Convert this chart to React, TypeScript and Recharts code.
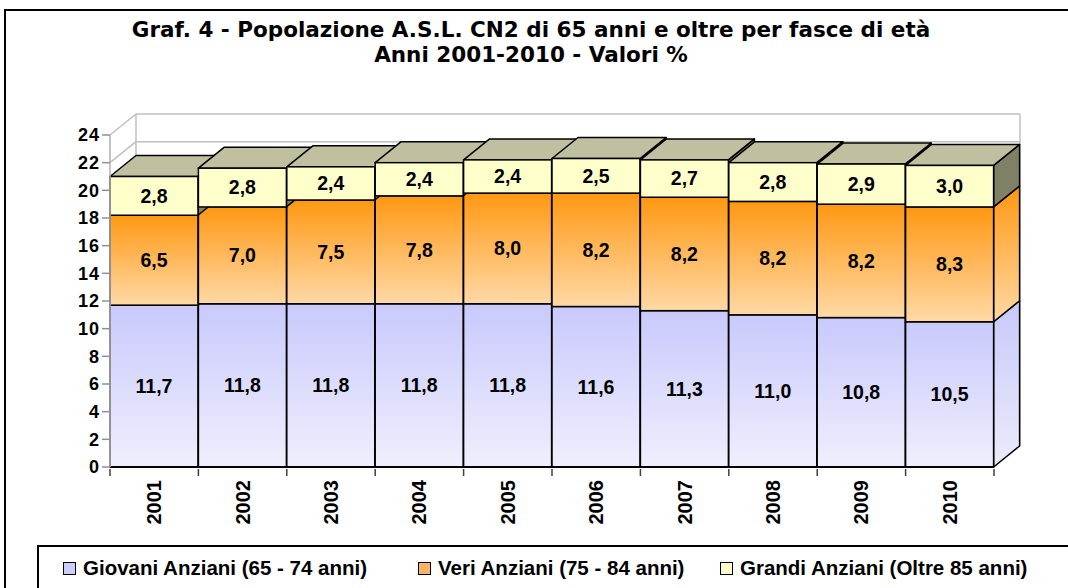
import React from 'react';
import { BarChart, Bar, XAxis, YAxis, CartesianGrid, LabelList } from 'recharts';

// ── dati ─────────────────────────────────────────────────────
const ANNI = ['2001', '2002', '2003', '2004', '2005', '2006', '2007', '2008', '2009', '2010'];
const GIOVANI = [11.7, 11.8, 11.8, 11.8, 11.8, 11.6, 11.3, 11.0, 10.8, 10.5];
const VERI = [6.5, 7.0, 7.5, 7.8, 8.0, 8.2, 8.2, 8.2, 8.2, 8.3];
const GRANDI = [2.8, 2.8, 2.4, 2.4, 2.4, 2.5, 2.7, 2.8, 2.9, 3.0];
const Y_TICKS = [0, 2, 4, 6, 8, 10, 12, 14, 16, 18, 20, 22, 24];

const SERIE = [
  { key: 'giovani', label: 'Giovani Anziani (65 - 74 anni)', fill: 'url(#gGiovani)', side: 'url(#gGiovaniSide)', legend: '#ccccff' },
  { key: 'veri', label: 'Veri Anziani (75 - 84 anni)', fill: 'url(#gVeri)', side: 'url(#gVeri)', legend: '#ffb366' },
  { key: 'grandi', label: 'Grandi Anziani (Oltre 85 anni)', fill: '#ffffcc', side: '#808066', legend: '#ffffcc' },
];

const data = ANNI.map((anno, i) => ({ anno, giovani: GIOVANI[i], veri: VERI[i], grandi: GRANDI[i] }));

// profondità 3D (pixel)
const DX = 26;
const DY = -21;
const FONT = '"Liberation Sans", Arial, sans-serif';
const fmt = (v: unknown) => Number(v).toFixed(1).replace('.', ',');

// ── barra 3D ─────────────────────────────────────────────────
function Box3D(props: any) {
  const { x, y, width: w, height: h, fill, side, top } = props;
  if (w == null || h == null) return null;
  const sw = 1.5;
  return (
    <g>
      <path
        d={`M${x + w},${y} L${x + w + DX},${y + DY} L${x + w + DX},${y + h + DY} L${x + w},${y + h} Z`}
        fill={side} stroke="#000" strokeWidth={sw} strokeLinejoin="round"
      />
      {top && (
        <path
          d={`M${x},${y} L${x + DX},${y + DY} L${x + w + DX},${y + DY} L${x + w},${y} Z`}
          fill="#c0c0a0" stroke="#000" strokeWidth={sw} strokeLinejoin="round"
        />
      )}
      <rect x={x} y={y} width={w} height={h} fill={fill} stroke="#000" strokeWidth={sw} />
    </g>
  );
}

// ── griglia sulla parete di fondo ─────────────────────────────
function WallLine(props: any) {
  const { x1, y1, x2, key } = props;
  return (
    <g key={key}>
      <line x1={x1} y1={y1} x2={x1 + DX} y2={y1 + DY} stroke="#c0c0c0" strokeWidth={1.5} />
      <line x1={x1 + DX} y1={y1 + DY} x2={x2 + DX} y2={y1 + DY} stroke="#c0c0c0" strokeWidth={1.5} />
    </g>
  );
}

function WallEdge(props: any) {
  const { x1, y1, y2, key } = props;
  return <line key={key} x1={x1 + DX} y1={y1 + DY} x2={x1 + DX} y2={y2 + DY} stroke="#c0c0c0" strokeWidth={1.5} />;
}

// ── tick asse X ──────────────────────────────────────────────
function YearTick(props: any) {
  const { x, y, payload, index } = props;
  const off = payload.offset ?? 0;
  return (
    <g>
      <line x1={x - off} y1={y - 6} x2={x - off} y2={y + 1} stroke="#404040" strokeWidth={1.5} />
      {index === ANNI.length - 1 && (
        <line x1={x + off} y1={y - 6} x2={x + off} y2={y + 1} stroke="#404040" strokeWidth={1.5} />
      )}
      <text
        x={x} y={y + 5} transform={`rotate(-90 ${x} ${y + 5})`}
        textAnchor="end" dominantBaseline="central"
        style={{ fontFamily: FONT, fontWeight: 700, fontSize: 20, fill: '#000' }}
      >
        {payload.value}
      </text>
    </g>
  );
}

export default function App() {
  return (
    <div style={{ position: 'fixed', left: 0, top: 0, width: 1068, height: 588, overflow: 'hidden', background: '#fff' }}>
      <div style={{ position: 'absolute', left: 4, top: 9, width: 1100, height: 620, border: '2px solid #000', boxSizing: 'border-box' }} />
      <div
        style={{
          position: 'absolute', left: 0, top: 17, width: 1062, textAlign: 'center',
          fontFamily: '"DejaVu Sans", Verdana, sans-serif', fontWeight: 700, fontSize: 21.5, lineHeight: '25px',
        }}
      >
        <div>Graf. 4 - Popolazione A.S.L. CN2 di 65 anni e oltre per fasce di età</div>
        <div>Anni 2001-2010 - Valori %</div>
      </div>

      <div style={{ position: 'absolute', left: 0, top: 0 }}>
        <BarChart
          width={1068} height={588} data={data}
          margin={{ top: 135, right: 74, bottom: 51, left: 60 }}
          barCategoryGap={0}
        >
          <defs>
            <linearGradient id="gGiovani" x1="0" y1="0" x2="0" y2="1">
              <stop offset="0%" stopColor="#c9c9fd" />
              <stop offset="100%" stopColor="#efeffd" />
            </linearGradient>
            <linearGradient id="gGiovaniSide" x1="0" y1="0" x2="0" y2="1">
              <stop offset="0%" stopColor="#c8c8fb" />
              <stop offset="100%" stopColor="#ececfb" />
            </linearGradient>
            <linearGradient id="gVeri" x1="0" y1="0" x2="0" y2="1">
              <stop offset="0%" stopColor="#ff9812" />
              <stop offset="100%" stopColor="#ffd9a6" />
            </linearGradient>
          </defs>
          <CartesianGrid
            horizontal={(p: any) => <WallLine {...p} />}
            vertical={(p: any) => <WallEdge {...p} />}
            verticalCoordinatesGenerator={({ offset }: any) => [offset.left, offset.left + offset.width]}
          />
          <XAxis
            dataKey="anno" height={70} tickLine={false} interval={0}
            axisLine={{ stroke: '#000', strokeWidth: 2 }}
            tick={<YearTick />}
          />
          <YAxis
            type="number" domain={[0, 24]} ticks={Y_TICKS} width={50} interval={0}
            axisLine={{ stroke: '#b0b0b0', strokeWidth: 1.5 }}
            tickLine={{ stroke: '#909090', strokeWidth: 1.5 }} tickSize={8}
            tick={{ fill: '#000', fontFamily: FONT, fontWeight: 700, fontSize: 18, letterSpacing: 1 }}
          />
          {SERIE.map((s, i) => (
            <Bar
              key={s.key} dataKey={s.key} stackId="a" fill={s.fill} isAnimationActive={false}
              shape={(p: any) => <Box3D {...p} side={s.side} top={i === SERIE.length - 1} />}
            >
              <LabelList
                dataKey={s.key} position="center" formatter={fmt}
                style={{ fill: '#000', fontFamily: FONT, fontWeight: 700, fontSize: 19.5 }}
              />
            </Bar>
          ))}
        </BarChart>
      </div>

      {/* legenda */}
      <div style={{ position: 'absolute', left: 37, top: 545, width: 1100, height: 80, borderTop: '2px solid #000', borderLeft: '2px solid #000' }} />
      {SERIE.map((s, i) => (
        <div
          key={s.key}
          style={{
            position: 'absolute', left: [63, 418, 720][i], top: 556, display: 'flex', alignItems: 'center', gap: 7,
            fontFamily: FONT, fontWeight: 700, fontSize: 20.5, whiteSpace: 'nowrap',
          }}
        >
          <span style={{ width: 11, height: 11, background: s.legend, border: '1.5px solid #000', display: 'inline-block' }} />
          <span>{s.label}</span>
        </div>
      ))}
    </div>
  );
}
